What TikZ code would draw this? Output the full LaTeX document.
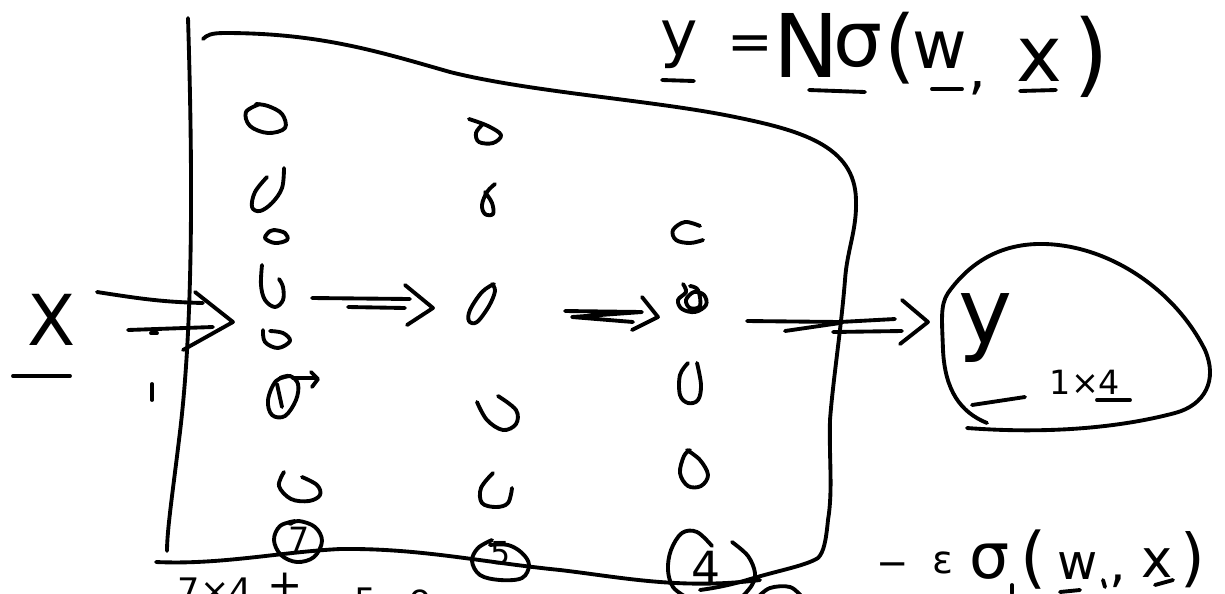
\documentclass[tikz,border=0pt]{standalone}
\usepackage{fontspec}
\setmainfont{DejaVu Sans}
\usetikzlibrary{calc}
\tikzset{
  hand/.style={line width=2.2pt, line cap=round, line join=round},
  g/.style={inner sep=0pt, font=\fontsize{#1}{#1}\selectfont},
  loop/.style={hand, smooth, tension=0.6},
}
\begin{document}
\begin{tikzpicture}[x=0.02cm, y=-0.02cm]
\fill[white] (0,0) rectangle (1225,593);
\useasboundingbox (0,0) rectangle (1225,593);
\clip (0,0) rectangle (1225,593);

% ---- network frame ----
\draw[hand] (188,18) .. controls (193,180) and (193,330) .. (179,440)
  .. controls (173,490) and (167,530) .. (167,551);
\draw[hand] (203,39) .. controls (207,35) and (211,33) .. (225,33)
  .. controls (320,33) and (380,52) .. (450,72)
  .. controls (530,92) and (650,100) .. (730,116)
  .. controls (800,130) and (855,145) .. (856,200)
  .. controls (857,230) and (847,250) .. (845,280)
  .. controls (841,330) and (833,380) .. (830,420)
  .. controls (829,460) and (833,490) .. (828,520)
  .. controls (826,540) and (824,552) .. (818,558)
  .. controls (805,566) and (780,570) .. (747,580)
  .. controls (730,585) and (715,588) .. (700,590);
\draw[hand] (156,562) .. controls (220,565) and (280,552) .. (340,549)
  .. controls (420,548) and (480,562) .. (560,570)
  .. controls (620,577) and (680,590) .. (760,580);

% ---- input ----
\node[g=40] (xin) at (52,320) {X};
\draw[hand] (13,376) -- (70,376);
\draw[hand] (151,333) -- (157,333);
\draw[hand] (152,384) -- (152,400);

% ---- first layer (7 units) ----
\draw[loop] plot coordinates {(260,104) (246,112) (250,126) (268,133) (285,128) (282,114) (268,106) (256,104)};
\draw[loop] plot coordinates {(267,177) (255,192) (252,207) (260,211) (272,203) (282,188) (284,168)};
\draw[loop] plot coordinates {(270,231) (265,238) (275,243) (287,240) (285,233) (274,230) (269,232)};
\draw[loop] plot coordinates {(262,265) (261,285) (265,300) (275,307) (283,300) (283,287) (279,279)};
\draw[loop] plot coordinates {(263,330) (265,342) (278,348) (290,341) (283,333) (270,331)};
\draw[loop] plot coordinates {(290,376) (276,381) (268,400) (272,415) (285,416) (296,400) (298,384) (290,376) (280,378)};
\draw[hand] (277,384) -- (282,407);
\draw[hand] (293,378) -- (316,378);
\draw[hand] (311,372) -- (318,379) -- (312,387);
\draw[loop] plot coordinates {(284,472) (279,486) (291,499) (309,501) (320,495) (317,485) (302,477)};
\draw[loop] plot coordinates {(295,521) (280,526) (274,540) (281,555) (297,562) (314,557) (322,541) (315,527) (299,521) (290,524)};
\node[g=19] (c7) at (299,539) {7};

% ---- second layer (5 units) ----
\draw[loop] plot coordinates {(469,119) (488,126) (501,135) (493,143) (479,142) (476,133) (482,125)};
\draw[loop] plot coordinates {(495,184) (487,192) (482,205) (485,214) (493,214) (492,203) (485,192)};
\draw[loop] plot coordinates {(494,284) (482,292) (470,310) (469,321) (477,322) (489,306) (495,291) (492,284)};
\draw[loop] plot coordinates {(477,402) (487,420) (503,430) (516,424) (516,410) (498,396)};
\draw[loop] plot coordinates {(493,473) (481,488) (482,503) (496,507) (508,503) (512,488)};
\draw[loop] plot coordinates {(492,540) (478,548) (472,561) (480,575) (500,580) (522,578) (529,565) (522,553) (508,545) (490,545)};
\node[g=18] (c5) at (501,553) {5};

% ---- third layer (4 units) ----
\draw[loop] plot coordinates {(700,226) (685,222) (673,230) (676,240) (690,243) (703,240)};
\draw[loop] plot coordinates {(683,284) (686,292) (678,300) (682,309) (695,312) (706,305) (704,295) (694,292) (686,300) (690,308) (700,306) (698,290) (690,286)};
\draw[loop] plot coordinates {(688,363) (680,375) (680,395) (688,403) (698,400) (701,385) (697,363)};
\draw[loop] plot coordinates {(687,450) (700,460) (708,475) (701,486) (688,486) (680,473) (684,456) (690,450)};
\draw[loop] plot coordinates {(712,546) (697,532) (682,533) (671,550) (668,570) (673,587) (686,597)};
\draw[loop] plot coordinates {(732,542) (748,556) (755,573) (752,585) (742,597)};
\node[g=26] (c4) at (706,568) {4};

% ---- arrows between layers ----
\coordinate (a1s) at (97,292);  \coordinate (a1e) at (233,322);
\draw[hand] (a1s) .. controls +(45,7) and +(-40,-1) .. ($(a1e)+(-30,-19)$);
\draw[hand] ($(a1s)+(31,38)$) -- ($(a1e)+(-20,5)$);
\draw[hand] ($(a1e)+(-38,-30)$) -- (a1e) -- ($(a1e)+(-50,28)$);

\coordinate (a2s) at (312,298); \coordinate (a2e) at (433,308);
\draw[hand] (a2s) -- ($(a2e)+(-23,-9)$);
\draw[hand] ($(a2s)+(36,9)$) -- ($(a2e)+(-28,0)$);
\draw[hand] ($(a2e)+(-28,-23)$) -- (a2e) -- ($(a2e)+(-26,17)$);

\coordinate (a3s) at (565,311); \coordinate (a3e) at (658,317);
\draw[hand] (a3s) -- ($(a3e)+(-16,-5)$) -- ($(a3s)+(7,6)$) -- ($(a3e)+(-25,5)$);
\draw[hand] ($(a3e)+(-16,-20)$) -- (a3e) -- ($(a3e)+(-26,13)$);

\coordinate (a4s) at (747,321); \coordinate (a4e) at (928,322);
\draw[hand] (a4s) -- ($(a4s)+(93,1)$) -- ($(a4e)+(-33,-3)$);
\draw[hand] ($(a4s)+(38,10)$) -- ($(a4s)+(93,2)$);
\draw[hand] ($(a4s)+(86,11)$) -- ($(a4e)+(-26,9)$);
\draw[hand] ($(a4e)+(-26,-22)$) -- (a4e) -- ($(a4e)+(-28,22)$);

% ---- output ----
\draw[hand] (987,423) .. controls (960,412) and (945,390) .. (943,350)
  .. controls (942,320) and (940,305) .. (948,293)
  .. controls (975,255) and (1010,243) .. (1045,244)
  .. controls (1110,246) and (1175,290) .. (1205,350)
  .. controls (1218,380) and (1205,405) .. (1175,413)
  .. controls (1130,425) and (1060,435) .. (967,428);
\node[g=52] (yout) at (986,328) {y};
\draw[hand] (972,405) -- (1025,397);
\node[g=19] (dim) at (1085,382) {1×4};
\draw[hand] (1097,400) -- (1130,400);

% ---- model equation ----
\node[g=36] (ey) at (679,45) {y};
\draw[hand] (662,80) -- (694,81);
\node[g=31] (eeq) at (750,48) {=};
\node[g=50] (eN) at (806,45) {N};
\node[g=44] (es) at (858,46) {σ};
\draw[hand] (809,90) -- (865,92);
\node[g=46] (elp) at (900,48) {(};
\node[g=38] (ew) at (940,50) {w};
\draw[hand] (932,89) -- (962,89);
\node[g=32] (ec) at (977,88) {,};
\node[g=44] (ex) at (1039,60) {x};
\draw[hand] (1020,91) -- (1056,90);
\node[g=52] (erp) at (1091,57) {)};

% ---- second expression ----
\node[g=22] (bm) at (893,570) {−};
\node[g=22] (be) at (943,563) {ε};
\node[g=36] (bs) at (990,562) {σ};
\draw[hand] (1012,585) -- (1012,593);
\node[g=38] (blp) at (1034,560) {(};
\node[g=28] (bw) at (1078,566) {w};
\draw[hand] (1060,592) -- (1080,590);
\draw[hand] (1103,580) -- (1105,587);
\node[g=30] (bc) at (1118,581) {,};
\node[g=30] (bx) at (1157,563) {x};
\draw[hand] (1155,585) -- (1173,580);
\node[g=36] (brp) at (1193,560) {)};

% ---- parameter count ----
\node[g=20, anchor=north] (p1) at (215,578) {7×4};
\node[g=24, anchor=north] (p2) at (285,573) {+};
\node[g=20, anchor=north] (p3) at (366,588) {5};
\node[g=20, anchor=north] (p4) at (420,589) {o};
\draw[loop] plot coordinates {(757,598) (770,588) (790,587) (802,597)};
\end{tikzpicture}
\end{document}
